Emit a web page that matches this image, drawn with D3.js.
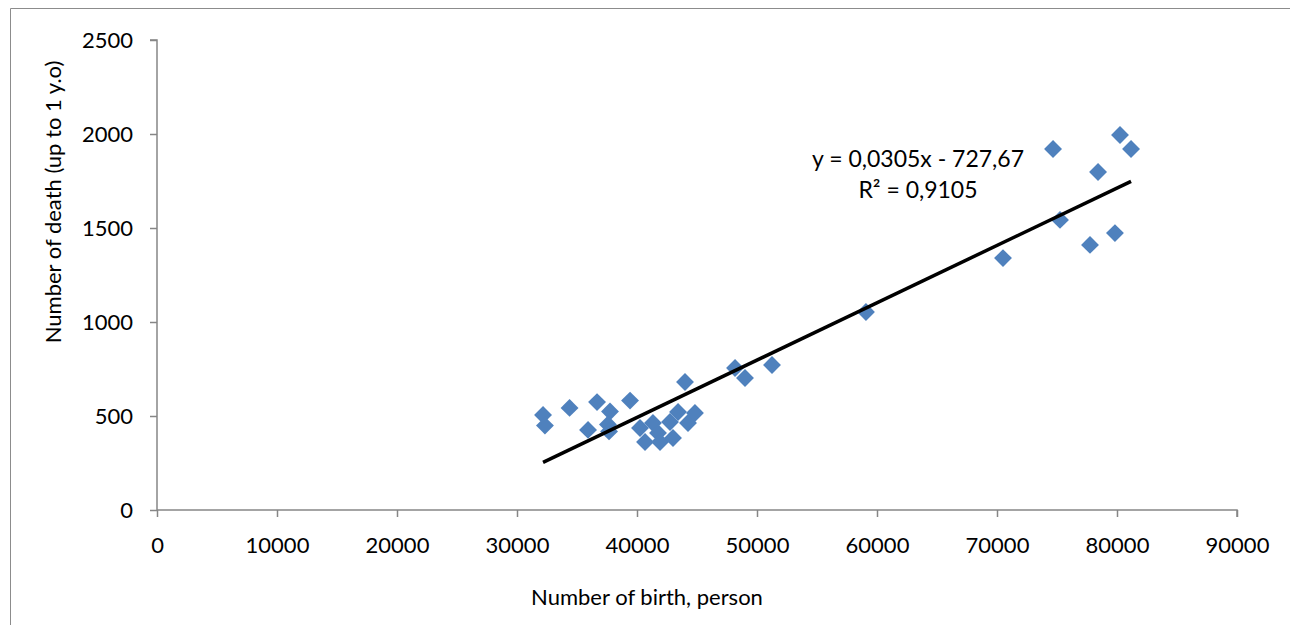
<!DOCTYPE html>
<html>
<head>
<meta charset="utf-8">
<script src="https://cdn.jsdelivr.net/npm/d3@7"></script>
<style>
  body { margin: 0; background: #fff; }
  svg text { font-family: Lato, "Open Sans", sans-serif; fill: #000; }
</style>
</head>
<body>
<svg id="chart" width="1290" height="625"></svg>
<script>
'use strict'

// births (x) and infant deaths (y)
var births = [32170, 32330, 34380, 35920, 36670, 37750, 37580, 37670, 39420,
  40250, 40670, 41330, 41750, 41920, 42750, 43000, 43420, 44000, 44250, 44830,
  48170, 49000, 51250, 59080, 70500, 74670, 75250, 77750, 78420, 79830, 80250, 81170]
var deaths = [505, 449, 543, 426, 574, 524, 455, 418, 582,
  436, 362, 463, 410, 362, 468, 383, 521, 681, 463, 516,
  755, 702, 771, 1053, 1340, 1920, 1543, 1410, 1798, 1473, 1995, 1920]

var xTicks = [0, 10000, 20000, 30000, 40000, 50000, 60000, 70000, 80000, 90000]
var yTicks = [0, 500, 1000, 1500, 2000, 2500]

// trendline as printed on the chart
var slope = 0.0305
var intercept = -727.67
var eqLines = ["y = 0,0305x - 727,67", "R² = 0,9105"]

var margin = {left: 157, right: 53, top: 40, bottom: 115}
var W = 1290, H = 625

var svg = d3.select("#chart")

// outer chart frame (only left and top edges show)
svg.append("path")
  .attr("d", "M10.5,625 V8.5 H1290")
  .attr("fill", "none")
  .attr("stroke", "#8c8c8c")
  .attr("stroke-width", 1)

var x = d3.scaleLinear().domain([0, 90000]).range([margin.left, W - margin.right])
var y = d3.scaleLinear().domain([0, 2500]).range([H - margin.bottom, margin.top])

var axisColor = "#868686"

var gx = svg.append("g")
  .attr("transform", "translate(0," + y(0) + ")")
  .call(d3.axisBottom(x).tickValues(xTicks).tickSize(7).tickPadding(20).tickFormat(d3.format("d")))
var gy = svg.append("g")
  .attr("transform", "translate(" + x(0) + ",0)")
  .call(d3.axisLeft(y).tickValues(yTicks).tickSize(7).tickPadding(17).tickFormat(d3.format("d")))

;[gx, gy].forEach(function(g) {
  g.select(".domain").attr("stroke", axisColor).attr("stroke-width", 1.5)
  g.selectAll(".tick line").attr("stroke", axisColor).attr("stroke-width", 1.5)
  g.selectAll(".tick text").style("font-size", "22px").attr("fill", "#000")
})
gx.select(".domain").attr("d", "M" + x(0) + ",0H" + x(90000) + "V7")
gy.select(".domain").attr("d", "M-7," + y(2500) + "H0V" + y(0))

// points
var diamond = d3.symbol().type(d3.symbolSquare).size(160)
svg.append("g")
  .selectAll("path")
  .data(births.map(function(b, i) { return [b, deaths[i]] }))
  .join("path")
  .attr("d", diamond)
  .attr("transform", function(d) { return "translate(" + x(d[0]) + "," + y(d[1]) + ") rotate(45)" })
  .attr("fill", "#4f81bd")

// linear trendline
var x0 = d3.min(births), x1 = d3.max(births)
svg.append("line")
  .attr("x1", x(x0)).attr("y1", y(slope * x0 + intercept))
  .attr("x2", x(x1)).attr("y2", y(slope * x1 + intercept))
  .attr("stroke", "#000")
  .attr("stroke-width", 3.5)

svg.append("g")
  .selectAll("text")
  .data(eqLines)
  .join("text")
  .attr("x", 918)
  .attr("y", function(d, i) { return 167 + i * 31 })
  .attr("text-anchor", "middle")
  .style("font-size", "23px")
  .text(function(d) { return d })

// axis titles
svg.append("text")
  .attr("x", 647).attr("y", 605)
  .attr("text-anchor", "middle")
  .style("font-size", "22px")
  .text("Number of birth, person")

svg.append("text")
  .attr("transform", "translate(61,202) rotate(-90)")
  .attr("text-anchor", "middle")
  .style("font-size", "22px")
  .text("Number of death (up to 1 y.o)")
</script>
</body>
</html>
